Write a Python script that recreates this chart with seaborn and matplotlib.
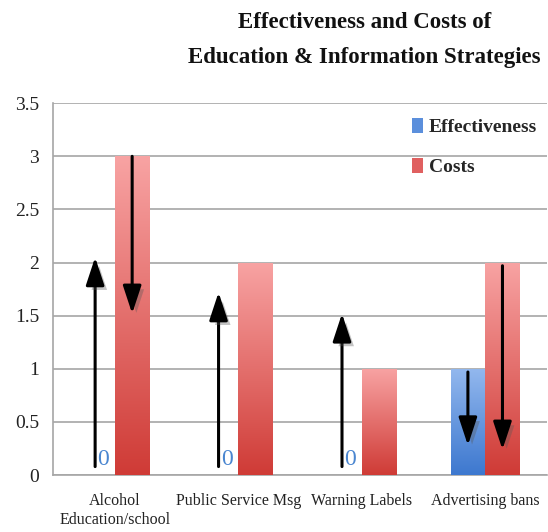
import numpy as np
import pandas as pd
import matplotlib
matplotlib.use("Agg")
import matplotlib.pyplot as plt
import matplotlib.patheffects as pe
from matplotlib.colors import LinearSegmentedColormap
from matplotlib.patches import Patch
import seaborn as sns

# --- data -------------------------------------------------------------
strategies = ["Alcohol\nEducation/school", "Public Service Msg",
              "Warning Labels", "Advertising bans"]
effectiveness = [0, 0, 0, 1]
costs = [3, 2, 1, 2]
series_names = ["Effectiveness", "Costs"]
y_ticks = [0, 0.5, 1, 1.5, 2, 2.5, 3, 3.5]

# trend arrows: (category index, series, start value, end value)
trend_arrows = [
    (0, "Effectiveness", 0.08, 2.05),
    (0, "Costs", 3.0, 1.52),
    (1, "Effectiveness", 0.08, 1.72),
    (2, "Effectiveness", 0.08, 1.52),
    (3, "Effectiveness", 0.97, 0.28),
    (3, "Costs", 1.97, 0.24),
]

df = pd.DataFrame({
    "Strategy": strategies * 2,
    "Series": [series_names[0]] * len(strategies) + [series_names[1]] * len(strategies),
    "Value": effectiveness + costs,
})

# --- style ------------------------------------------------------------
sns.set_style("white")
plt.rcParams["font.family"] = ["Liberation Serif", "DejaVu Serif"]

blue_top, blue_bot = "#93b8ee", "#3d78cf"
red_top, red_bot = "#f8a3a3", "#cf3b36"
palette = {"Effectiveness": "#5b8fdc", "Costs": "#e06060"}

fig = plt.figure(figsize=(5.48, 5.32), dpi=100)
ax = fig.add_axes([0.097, 0.107, 0.901, 0.699])

sns.barplot(data=df, x="Strategy", y="Value", hue="Series",
            hue_order=series_names, palette=palette, width=0.56, gap=0,
            ax=ax, legend=False, errorbar=None, zorder=3)

# gradient fill for each bar
grad = np.linspace(0, 1, 256).reshape(-1, 1)
cmaps = {
    "Effectiveness": LinearSegmentedColormap.from_list("b", [blue_bot, blue_top]),
    "Costs": LinearSegmentedColormap.from_list("r", [red_bot, red_top]),
}
bar_pos = {}
for container, name in zip(ax.containers, series_names):
    for i, bar in enumerate(container.patches):
        x0, w, h = bar.get_x(), bar.get_width(), bar.get_height()
        bar_pos[(i, name)] = x0 + w / 2
        bar.set_facecolor("none")
        bar.set_edgecolor("none")
        if h > 0:
            im = ax.imshow(grad, cmap=cmaps[name], origin="lower", aspect="auto",
                           extent=[x0, x0 + w, 0, h], zorder=3)
            im.set_clip_path(bar)
        else:
            ax.text(x0 + w / 2 + 0.045, 0.05, f"{h:g}", color="#4a86d0",
                    fontsize=17, ha="center", va="bottom", zorder=4)
ax.set_xlim(-0.5, len(strategies) - 0.5)
ax.set_ylim(0, 3.5)

# arrows
for idx, name, y0, y1 in trend_arrows:
    x = bar_pos[(idx, name)]
    if name == "Effectiveness" and effectiveness[idx] == 0:
        x -= 0.02
    ax.annotate("", xy=(x, y1), xytext=(x, y0),
                arrowprops=dict(arrowstyle="-|>,head_length=0.85,head_width=0.28",
                                color="black", lw=2.2, mutation_scale=20,
                                shrinkA=0, shrinkB=0,
                                path_effects=[pe.SimplePatchShadow(offset=(3, -3),
                                                                    shadow_rgbFace="#555555",
                                                                    alpha=0.35),
                                              pe.Normal()]),
                zorder=5)

# grid and axes
ax.set_yticks(y_ticks)
ax.set_yticklabels([f"{t:g}" for t in y_ticks])
ax.yaxis.grid(True, color="#a6a6a6", lw=1.2, zorder=0)
ax.set_axisbelow(True)
for s in ["top", "right"]:
    ax.spines[s].set_visible(False)
for s in ["left", "bottom"]:
    ax.spines[s].set_color("#a6a6a6")
    ax.spines[s].set_linewidth(1.2)
ax.tick_params(axis="y", length=6, color="#a6a6a6", width=1.2, labelsize=14,
               pad=4, labelcolor="#222222")
ax.tick_params(axis="x", length=0, labelsize=11.5, pad=13, labelcolor="#222222")
ax.set_xticks(np.arange(-0.5, len(strategies) - 0.4, 1), minor=True)
ax.tick_params(axis="x", which="minor", length=6, color="#a6a6a6", width=1.2)
ax.set_xlabel("")
ax.set_ylabel("")

# legend
handles = [Patch(facecolor=palette[n], edgecolor="none") for n in series_names]
leg = ax.legend(handles, series_names, loc="upper right", bbox_to_anchor=(1.015, 1.008),
                frameon=False, handlelength=0.55, handleheight=0.8, handletextpad=0.3,
                labelspacing=1.15, prop={"weight": "bold", "size": 14})

fig.text(0.665, 0.978, "Effectiveness and Costs of\nEducation & Information Strategies",
         ha="center", va="top", fontsize=16.5, fontweight="bold", linespacing=1.9,
         color="#111111")

fig.savefig("out.png", dpi=100, facecolor="white")
